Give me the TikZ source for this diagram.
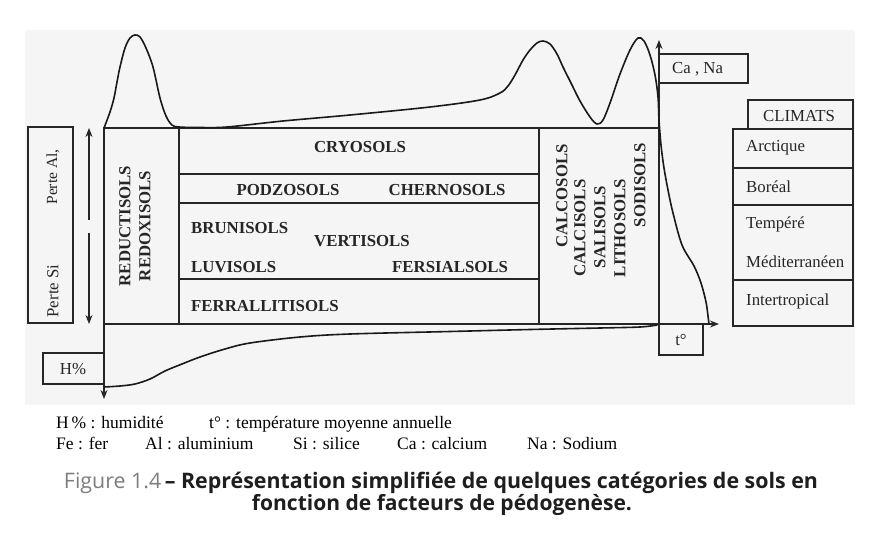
\documentclass[tikz,border=0pt]{standalone}
\usepackage{graphicx}
\usepackage{fontspec}
\setmainfont{Liberation Serif}
\newfontfamily\capfont{Open Sans}
\usetikzlibrary{arrows.meta}
\definecolor{capgray}{RGB}{125,125,125}
\definecolor{capblack}{RGB}{30,30,30}
\begin{document}
\begin{tikzpicture}[x=1pt,y=-1pt,
  ln/.style={line width=1.1pt, draw=black!85},
  arr/.style={ln, -{Stealth[length=9pt,width=7pt]}},
  crv/.style={line width=1.6pt, draw=black!90, line join=round, line cap=round},
  soil/.style={font=\fontsize{16.8}{17}\selectfont\bfseries, inner sep=0pt, text=black!85},
  txt/.style={font=\fontsize{16.8}{17}\selectfont, inner sep=0pt, text=black!85},
  leg/.style={font=\fontsize{17.5}{18}\selectfont, inner sep=0pt, anchor=base west},
  captxt/.style={font=\capfont\fontsize{17}{18}\selectfont, inner sep=0pt, anchor=base}
]
\useasboundingbox (0,0) rectangle (886,535);
\fill[black!4] (25,30) rectangle (855,405);

% key coordinates
\coordinate (orig) at (104,324);
\coordinate (ytop) at (659,40);
\coordinate (ybase) at (659,324);
\coordinate (xend) at (719,324);
\coordinate (htop) at (104,128);
\coordinate (hbot) at (104,399);
\coordinate (upS) at (89,220);
\coordinate (upE) at (89,128);
\coordinate (dnS) at (89,233);
\coordinate (dnE) at (89,324);

% main soil box
\draw[ln] (104,128) rectangle (659,324);
\draw[ln] (179,128) -- (179,324);
\draw[ln] (539,128) -- (539,324);
\draw[ln] (179,174) -- (539,174);
\draw[ln] (179,203) -- (539,203);
\draw[ln] (179,279) -- (539,279);

% axes
\draw[arr] (ybase) -- (ytop);
\draw[arr] (orig) -- (xend);
\draw[arr] (htop) -- (hbot);

% perte box and arrows
\draw[ln] (28,127) rectangle (73,323);
\draw[arr] (upS) -- (upE);
\draw[arr] (dnS) -- (dnE);
\node[txt, rotate=90, font=\fontsize{15.5}{16}\selectfont] (pal) at (53,177) {Perte Al,};
\node[txt, rotate=90] (psi) at (53,291) {Perte Si};

% H% box
\draw[ln] (43,353) rectangle (104,384);
\node[txt] (hp) at (73,369) {H\%};

% t box
\draw[ln] (659,324) rectangle (703,355);
\node[txt] (tdeg) at (681,340) {t°};

% Ca Na box
\draw[ln] (659,54) rectangle (748,83);
\node[txt, anchor=west] (cana) at (672,69) {Ca , Na};

% climats
\draw[ln] (748,100) rectangle (853,129);
\node[txt] (clim) at (799,116) {CLIMATS};
\draw[ln] (733,129) rectangle (853,326);
\draw[ln] (733,168) -- (853,168);
\draw[ln] (733,205) -- (853,205);
\draw[ln] (733,280) -- (853,280);
\node[txt, anchor=west] (arc) at (746,148) {Arctique};
\node[txt, anchor=west] (bor) at (746,187) {Boréal};
\node[txt, anchor=west] (tem) at (746,224) {Tempéré};
\node[txt, anchor=west] (med) at (746,262) {Méditerranéen};
\node[txt, anchor=west] (int) at (746,301) {Intertropical};

% soils
\node[soil, rotate=90] (red) at (125,226) {REDUCTISOLS};
\node[soil, rotate=90] (rdx) at (145,226) {REDOXISOLS};
\node[soil] (cry) at (360,147) {CRYOSOLS};
\node[soil] (pod) at (288,190) {PODZOSOLS};
\node[soil] (che) at (447,190) {CHERNOSOLS};
\node[soil, anchor=west] (bru) at (191,228) {BRUNISOLS};
\node[soil] (ver) at (362,241) {VERTISOLS};
\node[soil, anchor=west] (luv) at (191,267) {LUVISOLS};
\node[soil, anchor=west] (fer) at (392,267) {FERSIALSOLS};
\node[soil, anchor=west] (fal) at (191,306) {FERRALLITISOLS};
\node[soil, rotate=90] (cao) at (562,196) {CALCOSOLS};
\node[soil, rotate=90] (cai) at (580,228) {CALCISOLS};
\node[soil, rotate=90] (sal) at (600,227) {SALISOLS};
\node[soil, rotate=90] (lit) at (620,228) {LITHOSOLS};
\node[soil, rotate=90] (sod) at (640,185) {SODISOLS};

% top curve (Ca, Na)
\draw[crv] plot[smooth, tension=0.55] coordinates {
 (104,128) (110,112) (114,98) (117,82) (120,67) (125,48) (130,38) (135,35)
 (140,37) (146,48) (153,67) (160,98) (166,116) (172,125) (179,127)
 (200,127.5) (227,127) (283,121) (350,115) (430,107) (480,100) (500,93)
 (508,86) (515,75) (523,60) (530,50) (537,43) (543,41) (550,44) (557,54)
 (563,67) (572,85) (580,101) (590,117) (597,124) (603,120) (610,103)
 (620,74) (630,50) (638,38) (644,41) (650,55) (655,75) (658,97) (659,120)
 (661,145) (664,168) (668,190) (673,213) (682,245) (694,266) (701,283)
 (706,302) (708,316) (709,324)};

% bottom curve (H%)
\draw[crv] plot[smooth, tension=0.55] coordinates {
 (104,387) (120,386) (135,384) (150,379) (165,371) (182,364) (200,357)
 (225,349) (250,343) (300,337) (350,334) (450,331.5) (530,329.5) (600,328)
 (640,327) (657,325)};

% legend
\node[leg] (l1) at (56,428) {H\,\% : humidité};
\node[leg] (l2) at (209,428) {t° : température moyenne annuelle};
\node[leg] (l3) at (56,449) {Fe : fer};
\node[leg] (l4) at (145,449) {Al : aluminium};
\node[leg] (l5) at (293,449) {Si : silice};
\node[leg] (l6) at (397,449) {Ca : calcium};
\node[leg] (l7) at (527,449) {Na : Sodium};

% caption
\node[captxt] (c1) at (441,488) {\resizebox{754pt}{!}{\textcolor{capgray}{Figure 1.4}\textcolor{capblack}{\bfseries\,– Représentation simplifiée de quelques catégories de sols en}}};
\node[captxt] (c2) at (442,510) {\resizebox{380pt}{!}{\textcolor{capblack}{\bfseries fonction de facteurs de pédogenèse.}}};
\end{tikzpicture}
\end{document}
